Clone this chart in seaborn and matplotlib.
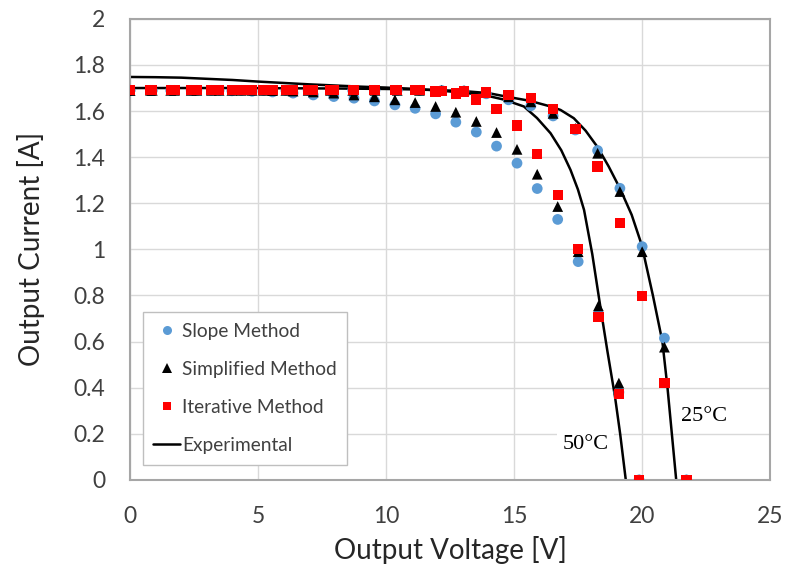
import matplotlib
matplotlib.use("Agg")
import matplotlib.pyplot as plt
import numpy as np
import pandas as pd
import seaborn as sns
from matplotlib.lines import Line2D
from matplotlib.ticker import FuncFormatter

# ---------------- data ----------------
v25 = [0.00, 0.87, 1.74, 2.61, 3.48, 4.35, 5.22, 6.09, 6.96, 7.83, 8.70, 9.57, 10.44,
       11.31, 12.18, 13.05, 13.92, 14.79, 15.66, 16.53, 17.40, 18.27, 19.14, 20.01, 20.88, 21.74]
v50 = [0.00, 0.80, 1.59, 2.39, 3.18, 3.98, 4.77, 5.57, 6.37, 7.16, 7.96, 8.75, 9.55,
       10.35, 11.14, 11.94, 12.73, 13.53, 14.32, 15.12, 15.91, 16.71, 17.51, 18.30, 19.10, 19.89]

slope25 = [1.690, 1.690, 1.690, 1.690, 1.690, 1.690, 1.690, 1.690, 1.690, 1.690, 1.690, 1.690, 1.690,
           1.690, 1.689, 1.687, 1.675, 1.649, 1.623, 1.579, 1.518, 1.429, 1.265, 1.012, 0.615, 0.000]
simp25 = [1.690, 1.690, 1.690, 1.690, 1.690, 1.690, 1.690, 1.690, 1.690, 1.690, 1.690, 1.690, 1.690,
          1.690, 1.690, 1.689, 1.680, 1.662, 1.640, 1.590, 1.525, 1.417, 1.251, 0.990, 0.576, 0.000]
iter25 = [1.690, 1.690, 1.690, 1.690, 1.690, 1.690, 1.690, 1.690, 1.690, 1.690, 1.690, 1.690, 1.690,
          1.690, 1.688, 1.685, 1.680, 1.670, 1.656, 1.608, 1.521, 1.359, 1.114, 0.798, 0.420, 0.000]

slope50 = [1.690, 1.690, 1.690, 1.690, 1.690, 1.688, 1.686, 1.683, 1.678, 1.670, 1.663, 1.656, 1.644,
           1.627, 1.612, 1.588, 1.552, 1.509, 1.448, 1.374, 1.264, 1.130, 0.947, 0.720, 0.380, 0.000]
simp50 = [1.690, 1.690, 1.690, 1.690, 1.690, 1.690, 1.690, 1.689, 1.687, 1.683, 1.678, 1.670, 1.662,
          1.649, 1.637, 1.620, 1.595, 1.555, 1.507, 1.434, 1.326, 1.186, 0.990, 0.755, 0.420, 0.000]
iter50 = [1.690, 1.690, 1.690, 1.690, 1.690, 1.690, 1.690, 1.690, 1.690, 1.690, 1.690, 1.690, 1.690,
          1.690, 1.690, 1.685, 1.676, 1.650, 1.610, 1.538, 1.414, 1.236, 1.001, 0.706, 0.372, 0.000]

exp50_v = [0, 1, 2, 3, 4, 5, 6, 7, 8, 9, 10, 11, 12, 12.8, 13.82, 14.6, 15.39, 15.9, 16.43,
           16.85, 17.21, 17.5, 17.74, 18.06, 18.35, 18.65, 18.95, 19.15, 19.37]
exp50_i = [1.748, 1.747, 1.745, 1.740, 1.735, 1.728, 1.722, 1.716, 1.711, 1.706, 1.702, 1.697,
           1.690, 1.682, 1.670, 1.650, 1.620, 1.570, 1.504, 1.430, 1.345, 1.260, 1.171, 0.980,
           0.770, 0.560, 0.360, 0.200, 0.000]
exp25_v = [0, 2, 4, 6, 8, 10, 11, 12, 13, 14, 14.74, 15.6, 16.43, 16.82, 17.34, 17.8, 18.26,
           18.7, 19.14, 19.6, 19.99, 20.43, 20.8, 21.0, 21.17, 21.34]
exp25_i = [1.700, 1.700, 1.700, 1.699, 1.698, 1.696, 1.694, 1.691, 1.687, 1.678, 1.662, 1.645,
           1.620, 1.605, 1.569, 1.515, 1.445, 1.360, 1.265, 1.150, 1.020, 0.800, 0.600, 0.400,
           0.200, 0.000]

methods = ["Slope Method", "Simplified Method", "Iterative Method"]
legend_labels = methods + ["Experimental"]

pts = pd.concat([
    pd.DataFrame({"Method": "Slope Method", "Temp": "25", "V": v25, "I": slope25}),
    pd.DataFrame({"Method": "Slope Method", "Temp": "50", "V": v50, "I": slope50}),
    pd.DataFrame({"Method": "Simplified Method", "Temp": "25", "V": v25, "I": simp25}),
    pd.DataFrame({"Method": "Simplified Method", "Temp": "50", "V": v50, "I": simp50}),
    pd.DataFrame({"Method": "Iterative Method", "Temp": "25", "V": v25, "I": iter25}),
    pd.DataFrame({"Method": "Iterative Method", "Temp": "50", "V": v50, "I": iter50}),
], ignore_index=True)
exp = pd.concat([
    pd.DataFrame({"Temp": "25", "V": exp25_v, "I": exp25_i}),
    pd.DataFrame({"Temp": "50", "V": exp50_v, "I": exp50_i}),
], ignore_index=True)

# ---------------- style ----------------
sns.set_theme(style="white")
plt.rcParams["font.family"] = ["Lato", "DejaVu Sans"]

fig, ax = plt.subplots(figsize=(7.88, 5.72), dpi=100)
fig.subplots_adjust(left=0.165, right=0.977, top=0.967, bottom=0.161)

grid_c = "#d9d9d9"
ax.set_axisbelow(True)
ax.grid(True, color=grid_c, linewidth=1.0)

sns.lineplot(data=exp, x="V", y="I", units="Temp", estimator=None, sort=False,
             color="black", linewidth=1.8, ax=ax, legend=False, zorder=2)

styles = {
    "Slope Method": dict(marker="o", color="#5b9bd5", s=60),
    "Simplified Method": dict(marker="^", color="black", s=60),
    "Iterative Method": dict(marker="s", color="#ff0000", s=55),
}
for m in methods:
    st = styles[m]
    sns.scatterplot(data=pts[pts["Method"] == m], x="V", y="I", marker=st["marker"],
                    color=st["color"], s=st["s"], linewidth=0, edgecolor="none",
                    ax=ax, zorder=3, legend=False)

ax.set_xlim(0, 25)
ax.set_ylim(0, 2)
ax.set_xticks(np.arange(0, 26, 5))
ax.set_yticks(np.arange(0, 2.01, 0.2))
ax.yaxis.set_major_formatter(FuncFormatter(lambda v, p: f"{v:g}"))
ax.tick_params(length=0, labelsize=16.5, colors="#404040")
ax.tick_params(axis="y", pad=18)
ax.tick_params(axis="x", pad=19)
for sp in ax.spines.values():
    sp.set_visible(True)
    sp.set_color("#a6a6a6")
    sp.set_linewidth(1.5)

ax.set_xlabel("Output Voltage [V]", fontsize=20, color="#262626", labelpad=6)
ax.set_ylabel("Output Current [A]", fontsize=20, color="#262626", labelpad=20)

txt_kw = dict(family=["Liberation Serif"], fontsize=16, ha="center", va="center", color="black",
              zorder=1.5, bbox=dict(facecolor="white", edgecolor="none", pad=4))
ax.text(17.8, 0.152, "50°C", **txt_kw)
ax.text(22.42, 0.273, "25°C", **txt_kw)

handles = [
    Line2D([], [], ls="", marker="o", color="#5b9bd5", markersize=6.5, markeredgewidth=0),
    Line2D([], [], ls="", marker="^", color="black", markersize=6.5, markeredgewidth=0),
    Line2D([], [], ls="", marker="s", color="#ff0000", markersize=6, markeredgewidth=0),
    Line2D([], [], color="black", linewidth=1.8),
]
leg = ax.legend(handles, legend_labels, loc="lower left", bbox_to_anchor=(0.02, 0.033),
                borderaxespad=0, fontsize=13.8, frameon=True, fancybox=False,
                edgecolor="#bfbfbf", facecolor="white", framealpha=1,
                handlelength=1.4, handletextpad=0.1, labelspacing=1.1, borderpad=0.55)
leg.get_frame().set_linewidth(1.0)
for t in leg.get_texts():
    t.set_color("#404040")

fig.savefig("out.png", dpi=100)
